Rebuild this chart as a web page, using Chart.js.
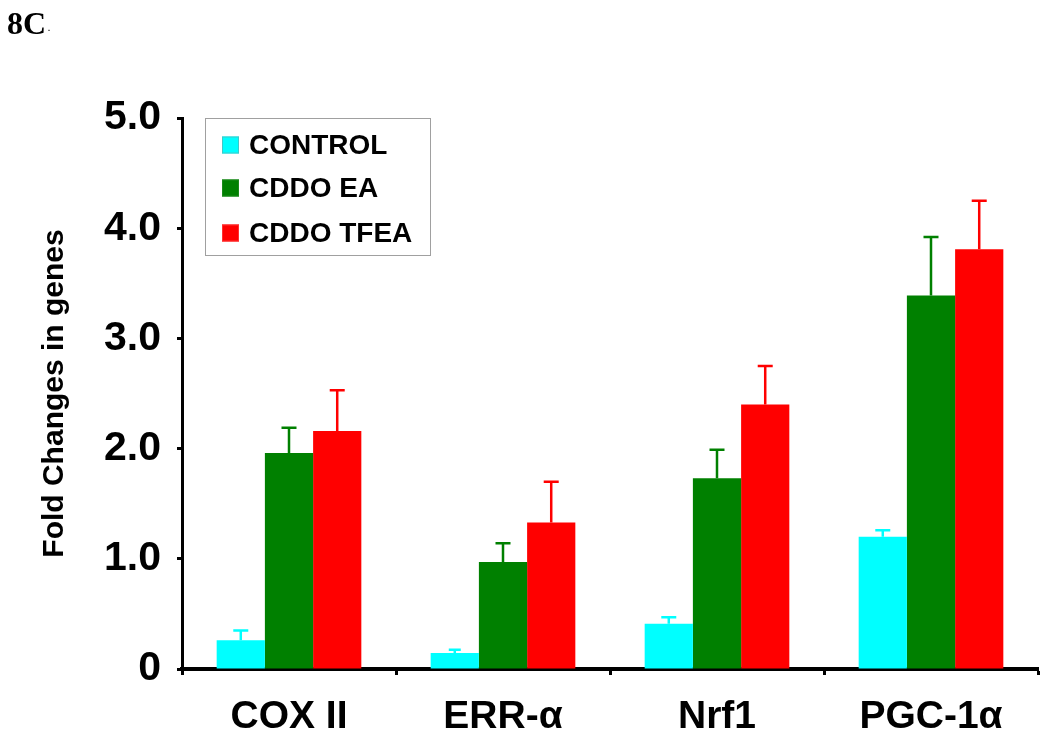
<!DOCTYPE html>
<html>
<head>
<meta charset="utf-8">
<title>8C</title>
<script src="https://cdn.jsdelivr.net/npm/chart.js@4"></script>
<style>
    html, body { margin: 0; padding: 0; background: #fff; }
    #wrap { width: 1050px; height: 749px; }
</style>
</head>
<body>
<div id="wrap"><canvas id="geneChart" width="1050" height="749"></canvas></div>
<script>
const FONT = '"Liberation Sans", Arial, sans-serif';

// Data
const genes = ['COX II', 'ERR-\u03b1', 'Nrf1', 'PGC-1\u03b1'];
const seriesNames = ['CONTROL', 'CDDO EA', 'CDDO TFEA'];
const seriesColors = ['#00ffff', '#008000', '#ff0000'];
const seriesBorders = ['#40c8c8', '#1a8a1a', '#ff3030'];

const controlValues = [0.26, 0.145, 0.41, 1.20];
const cddoEaValues = [1.96, 0.97, 1.73, 3.39];
const cddoTfeaValues = [2.16, 1.33, 2.40, 3.81];

// upper error (SE) for each bar
const controlErr = [0.09, 0.03, 0.06, 0.06];
const cddoEaErr = [0.23, 0.17, 0.26, 0.53];
const cddoTfeaErr = [0.37, 0.37, 0.35, 0.44];

const yTicks = [0, 1, 2, 3, 4, 5];

const allValues = [controlValues, cddoEaValues, cddoTfeaValues];
const allErrors = [controlErr, cddoEaErr, cddoTfeaErr];

// Upper error bars with a cap
const errorBars = {
    id: 'errorBars',
    afterDatasetsDraw(chart) {
        const ctx = chart.ctx;
        const yScale = chart.scales.y;
        chart.data.datasets.forEach((ds, di) => {
            const meta = chart.getDatasetMeta(di);
            meta.data.forEach((bar, i) => {
                const top = yScale.getPixelForValue(ds.data[i] + ds.errors[i]);
                const cap = ds.errors[i] < 0.05 ? 6 : 7.5;
                ctx.save();
                ctx.strokeStyle = ds.backgroundColor;
                ctx.lineWidth = 2.5;
                ctx.beginPath();
                ctx.moveTo(bar.x, bar.y);
                ctx.lineTo(bar.x, top);
                ctx.moveTo(bar.x - cap, top);
                ctx.lineTo(bar.x + cap, top);
                ctx.stroke();
                ctx.restore();
            });
        });
    }
};

// Boxed legend inside the plot + panel label
const boxLegend = {
    id: 'boxLegend',
    afterDraw(chart) {
        const ctx = chart.ctx;
        const area = chart.chartArea;
        const left = area.left + 23;
        const top = area.top;
        ctx.save();
        ctx.strokeStyle = '#a0a0a0';
        ctx.lineWidth = 1;
        ctx.strokeRect(left + 0.5, top + 0.5, 225, 137);

        ctx.font = 'bold 28px ' + FONT;
        ctx.textBaseline = 'middle';
        ctx.fillStyle = '#000';
        const rows = [27, 70, 115];
        chart.data.datasets.forEach((ds, i) => {
            const cy = top + rows[i];
            ctx.fillStyle = ds.backgroundColor;
            ctx.fillRect(left + 17, cy - 8.5, 17, 17);
            ctx.strokeStyle = ds.borderColor;
            ctx.strokeRect(left + 17.5, cy - 8, 16, 16);
            ctx.fillStyle = '#000';
            ctx.fillText(ds.label, left + 44, cy + 1);
        });

        ctx.font = 'bold 32px "Liberation Serif", "Times New Roman", serif';
        ctx.textBaseline = 'alphabetic';
        ctx.fillText('8C', 7, 34);
        ctx.font = 'bold 8px "Liberation Serif", serif';
        ctx.fillText('.', 48, 31);
        ctx.restore();
    }
};

new Chart(document.getElementById('geneChart'), {
    type: 'bar',
    data: {
        labels: genes,
        datasets: seriesNames.map((name, i) => ({
            label: name,
            data: allValues[i],
            errors: allErrors[i],
            backgroundColor: seriesColors[i],
            borderColor: seriesBorders[i],
            borderWidth: 0,
            categoryPercentage: 0.676,
            barPercentage: 1.0
        }))
    },
    options: {
        responsive: false,
        animation: false,
        devicePixelRatio: 1,
        layout: { padding: { top: 118, right: 12, bottom: 0, left: 0 } },
        plugins: {
            legend: { display: false },
            tooltip: { enabled: false }
        },
        scales: {
            x: {
                afterFit: (scale) => { scale.height = 80; },
                grid: {
                    offset: true,
                    drawOnChartArea: false,
                    color: '#000',
                    tickLength: 6,
                    tickWidth: 3
                },
                border: { display: true, color: '#000', width: 4 },
                ticks: {
                    color: '#000',
                    padding: 19,
                    font: { family: FONT, size: 39, weight: 'bold' }
                }
            },
            y: {
                min: 0,
                max: 5,
                afterFit: (scale) => { scale.width = 182; },
                afterBuildTicks: (scale) => {
                    scale.ticks = yTicks.map(v => ({ value: v }));
                },
                grid: {
                    drawOnChartArea: false,
                    color: '#000',
                    tickLength: 5,
                    tickWidth: 3
                },
                border: { display: true, color: '#000', width: 3 },
                ticks: {
                    color: '#000',
                    padding: 16,
                    font: { family: FONT, size: 41, weight: 'bold' },
                    callback: (v) => v === 0 ? '0' : Number(v).toFixed(1)
                },
                title: {
                    display: true,
                    text: 'Fold Changes in genes',
                    color: '#000',
                    font: { family: FONT, size: 30, weight: 'bold' },
                    padding: { top: 37, bottom: 0 }
                }
            }
        }
    },
    plugins: [errorBars, boxLegend]
});
</script>
</body>
</html>
